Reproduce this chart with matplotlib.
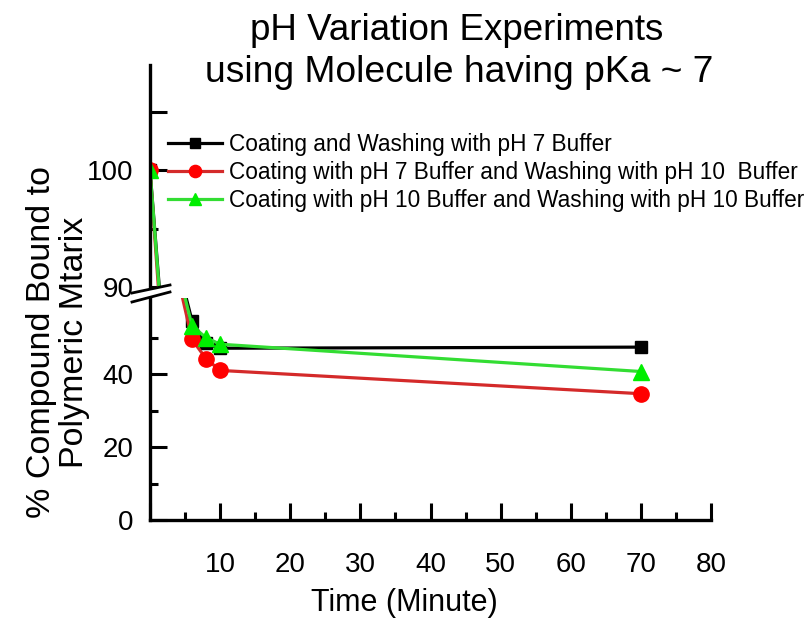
import matplotlib
matplotlib.use("Agg")
import matplotlib.pyplot as plt
from matplotlib.lines import Line2D
from matplotlib.patches import Polygon

plt.rcParams['font.family'] = ['Liberation Sans', 'DejaVu Sans']

# data
time_min = [0, 6, 8, 10, 70]
ph7_ph7 = [100, 54.7, 48.5, 47.2, 47.5]
ph7_ph10 = [100, 49.6, 44.3, 41.1, 34.7]
ph10_ph10 = [100, 53.3, 50.1, 48.3, 40.8]

labels = ["Coating and Washing with pH 7 Buffer",
          "Coating with pH 7 Buffer and Washing with pH 10  Buffer",
          "Coating with pH 10 Buffer and Washing with pH 10 Buffer"]

fig = plt.figure(figsize=(8.12, 6.23), dpi=100)
left, right = 150 / 812, 711 / 812
ax_bot = fig.add_axes([left, 103 / 623, right - left, (520 - 298) / 623])
ax_top = fig.add_axes([left, (623 - 287) / 623, right - left, (287 - 65) / 623],
                      sharex=ax_bot)

series = [
    (ph7_ph7, 'black', 'black', 's', 9),
    (ph7_ph10, '#d42a2a', '#ff0000', 'o', 11),
    (ph10_ph10, '#33dd33', '#00ee00', '^', 11),
]
for ax in (ax_bot, ax_top):
    for vals, lc, mc, mk, ms in series:
        ax.plot(time_min, vals, color=lc, lw=2.3, marker=mk, ms=ms,
                mfc=mc, mec=mc)

ax_bot.set_ylim(0, 61)
ax_top.set_ylim(90, 109)
ax_bot.set_xlim(0, 80)

for ax in (ax_bot, ax_top):
    ax.spines['top'].set_visible(False)
    ax.spines['right'].set_visible(False)
    ax.spines['left'].set_linewidth(2.4)
    ax.spines['bottom'].set_linewidth(2.4)
    ax.tick_params(direction='in', width=2.2, length=12, labelsize=20, pad=12)
    ax.tick_params(which='minor', direction='in', width=2.2, length=6)
    ax.tick_params(axis='x', pad=23)

ax_top.spines['bottom'].set_visible(False)
ax_top.tick_params(axis='x', which='both', bottom=False, labelbottom=False)

ax_bot.set_xticks([0, 10, 20, 30, 40, 50, 60, 70, 80])
ax_bot.set_xticklabels(['', '10', '20', '30', '40', '50', '60', '70', '80'])
ax_bot.set_xticks(range(5, 80, 10), minor=True)
ax_bot.set_yticks([0, 20, 40])
ax_bot.set_yticks([10, 30, 50], minor=True)
ax_top.set_yticks([90, 100, 105])
ax_top.set_yticklabels(['90', '100', ''])
ax_top.set_yticks([95], minor=True)

# axis break marks
bx0, bx1 = 132 / 812, 170 / 812
fig.patches.append(Polygon([[bx0, (623 - 293) / 623], [bx1, (623 - 285) / 623],
                            [bx1, (623 - 292) / 623], [bx0, (623 - 302) / 623]],
                           closed=True, transform=fig.transFigure,
                           facecolor='white', edgecolor='none', zorder=5))
for yy0, yy1 in [(293, 285), (302, 292)]:
    fig.add_artist(Line2D([bx0, bx1], [(623 - yy0) / 623, (623 - yy1) / 623],
                          transform=fig.transFigure, color='black', lw=2, zorder=6))

handles = [Line2D([], [], color=lc, lw=2.3, marker=mk, ms=ms * 0.8, mfc=mc, mec=mc)
           for _, lc, mc, mk, ms in series]
fig.legend(handles, labels, loc='upper left', bbox_to_anchor=(168 / 812, 1 - 133 / 623),
           frameon=False, fontsize=16.3, handlelength=2.4, handletextpad=0.3,
           labelspacing=0.22, borderpad=0, borderaxespad=0, numpoints=1)

fig.text(457 / 812, 1 - 31 / 623, "pH Variation Experiments", ha='center', va='center',
         fontsize=26.5)
fig.text(459 / 812, 1 - 73 / 623, "using Molecule having pKa ~ 7", ha='center',
         va='center', fontsize=26.8)
fig.text(404 / 812, 1 - 603 / 623, "Time (Minute)", ha='center', va='center', fontsize=22)
fig.text(58 / 812, 1 - 342 / 623, "% Compound Bound to\nPolymeric Mtarix", ha='center',
         va='center', rotation=90, fontsize=24.5, linespacing=1.1)

fig.savefig("out.png", dpi=100)
